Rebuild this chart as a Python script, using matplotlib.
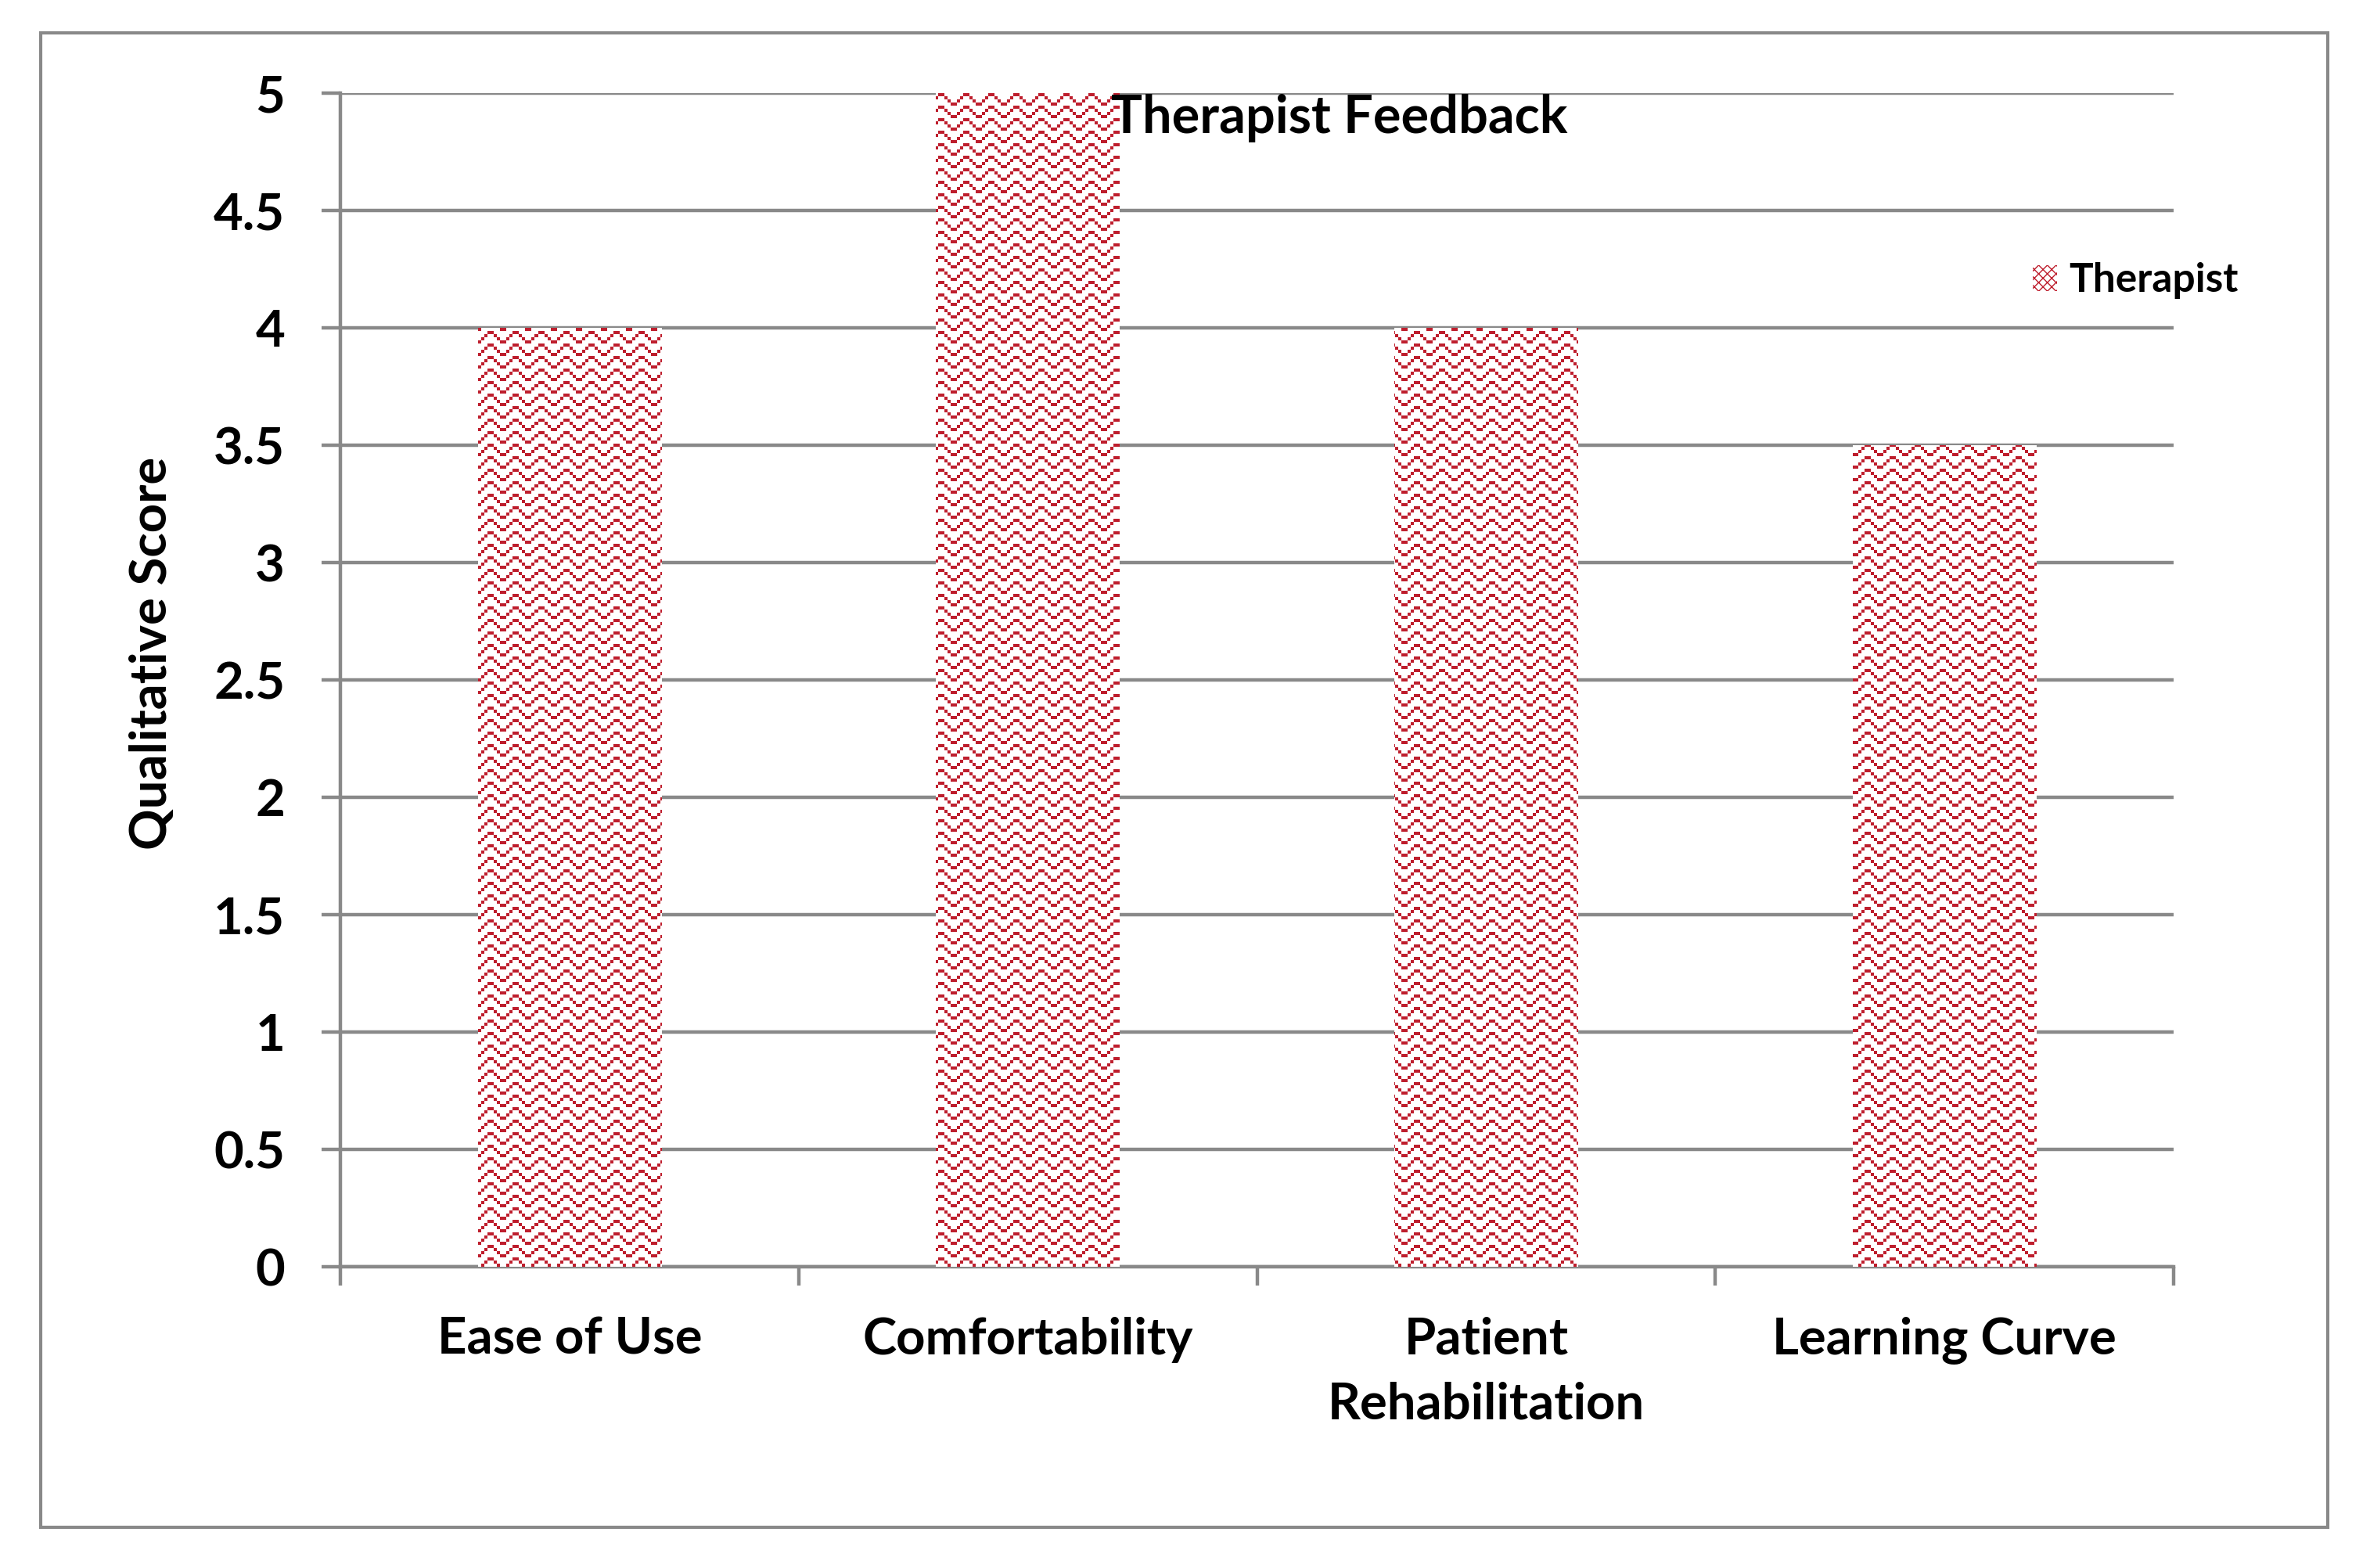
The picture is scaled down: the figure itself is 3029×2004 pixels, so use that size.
import numpy as np
import matplotlib
matplotlib.use('Agg')
import matplotlib.pyplot as plt
from matplotlib.patches import Rectangle, Patch

categories = ['Ease of Use', 'Comfortability', 'Patient\nRehabilitation', 'Learning Curve']
scores = [4, 5, 4, 3.5]
series_name = 'Therapist'
title = 'Therapist Feedback'
y_ticks = [0, 0.5, 1, 1.5, 2, 2.5, 3, 3.5, 4, 4.5, 5]
y_tick_labels = ['0', '0.5', '1', '1.5', '2', '2.5', '3', '3.5', '4', '4.5', '5']

RED = '#BE1E2D'
GREY = '#898989'

plt.rcParams['font.family'] = ['Lato', 'DejaVu Sans']
plt.rcParams['font.weight'] = 'bold'

W, H, DPI = 3029, 2004, 100
fig = plt.figure(figsize=(W / DPI, H / DPI), dpi=DPI)

# axes box, in pixels
left, right, top, bottom = 435, 2778, 119, 1619
ax = fig.add_axes([left / W, 1 - bottom / H, (right - left) / W, (bottom - top) / H])

x = np.arange(len(categories))
bars = ax.bar(x, scores, width=0.4, color='white', edgecolor='none', zorder=2)

ax.set_xlim(-0.5, len(categories) - 0.5)
ax.set_ylim(0, 5)

# zigzag dot fill, clipped to each bar
ax_w, ax_h = right - left, bottom - top
cell = 4
tile = np.array([[1, 0, 0, 0, 0, 0, 0, 1],
                 [0, 1, 0, 0, 0, 0, 1, 0],
                 [0, 0, 1, 0, 0, 1, 0, 0],
                 [0, 0, 0, 1, 1, 0, 0, 0]])
ny, nx = ax_h // cell + 1, ax_w // cell + 1
yy, xx = np.mgrid[0:ny, 0:nx]
on = tile[yy % 4, xx % 8]
block = np.ones((cell, cell))
mask = np.kron(on, block)[:ax_h, :ax_w] > 0
rgba = np.ones((ax_h, ax_w, 4))
rgba[mask, :3] = matplotlib.colors.to_rgb(RED)
for b in bars:
    im = ax.imshow(rgba, extent=(-0.5, len(categories) - 0.5, 0, 5), origin='upper',
                   interpolation='nearest', aspect='auto', zorder=3)
    im.set_clip_path(b)

ax.set_yticks(y_ticks)
ax.set_yticklabels(y_tick_labels)
ax.set_xticks(x)
ax.set_xticklabels(categories, linespacing=1.5)
ax.set_xticks(np.arange(-0.5, len(categories)), minor=True)
ax.tick_params(axis='x', which='major', length=0, pad=46, labelsize=47)
ax.tick_params(axis='x', which='minor', length=17, width=3.2, color=GREY, direction='out')
ax.tick_params(axis='y', length=17, width=3.2, color=GREY, direction='out', pad=34, labelsize=47)

ax.yaxis.grid(True, color=GREY, linewidth=3.2, zorder=0)
ax.set_axisbelow(True)
for s in ['top', 'right']:
    ax.spines[s].set_visible(False)
for s in ['left', 'bottom']:
    ax.spines[s].set_color(GREY)
    ax.spines[s].set_linewidth(3.2)
ax.set_facecolor('none')

fig.text(1712 / W, 1 - 151 / H, title, ha='center', va='center', fontsize=48, fontweight='bold')
fig.text(195 / W, 1 - 835 / H, 'Qualitative Score', rotation=90, ha='center', va='center',
         fontsize=47, fontweight='bold')

handle = Patch(facecolor='white', edgecolor=RED, hatch='xxx', linewidth=0, label=series_name)
fig.legend(handles=[handle], loc='center left', bbox_to_anchor=(2598 / W, 1 - 359 / H),
           frameon=False, fontsize=37, handlelength=0.6, handleheight=0.6,
           handletextpad=0.3, borderpad=0, borderaxespad=0)

# outer chart frame
fig.patches.append(Rectangle((52 / W, 1 - 1952 / H), (2975 - 52) / W, (1952 - 42) / H,
                             transform=fig.transFigure, fill=False, edgecolor=GREY,
                             linewidth=3.0))

fig.savefig('out.png', dpi=DPI)
